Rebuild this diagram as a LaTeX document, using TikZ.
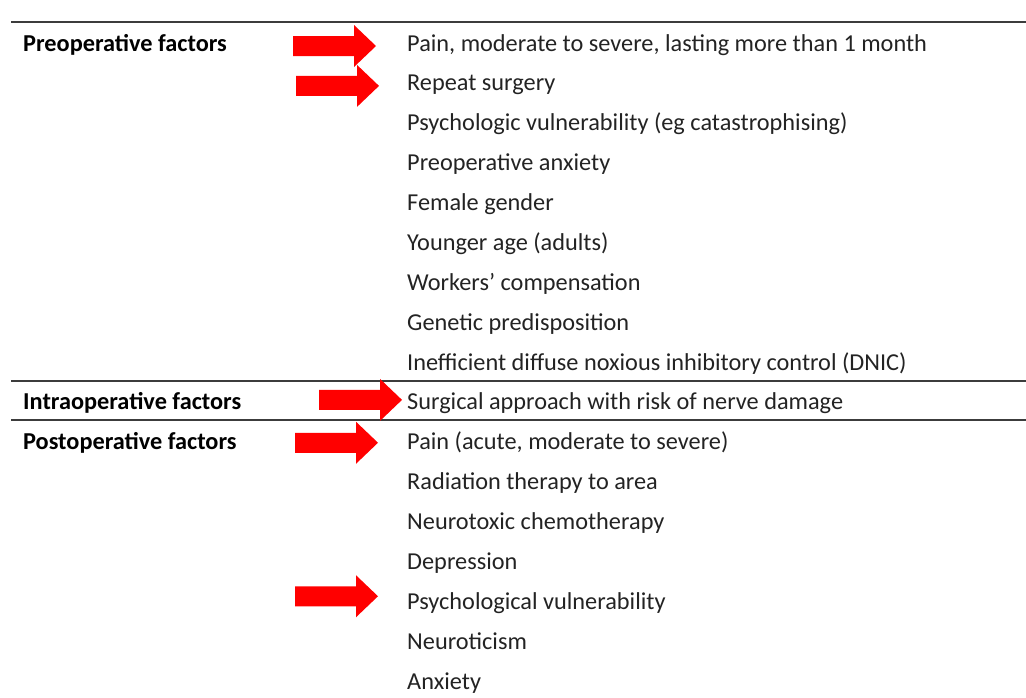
\documentclass[tikz,border=0pt]{standalone}
\usepackage{fontspec}
\setmainfont{Carlito}
\usepackage{xcolor}
\usetikzlibrary{calc}
\definecolor{markred}{RGB}{255,0,0}
\definecolor{rulegray}{RGB}{60,60,60}
\definecolor{textgray}{RGB}{35,35,35}
% block arrow whose tip sits on the given point
\newcommand{\pointer}[1]{%
  \fill[markred] (#1) -- ++(-22,-21) -- ++(0,11) -- ++(-61,0) -- ++(0,20)
    -- ++(61,0) -- ++(0,11) -- cycle;}

\begin{document}
\begin{tikzpicture}[x=1pt,y=-1pt,
    item/.style={anchor=base west,inner sep=0pt,font=\fontsize{24.3}{29}\selectfont,
                 text=textgray},
    group/.style={item,font=\fontsize{24.3}{29}\selectfont\bfseries,text=black},
    rule/.style={draw=rulegray,line width=1.4pt}]
  \useasboundingbox (0,0) rectangle (1026,697);
  % table rules
  \draw[rule] (11,22) -- (1026,22);
  \draw[rule] (11,381) -- (1026,381);
  \draw[rule] (11,420) -- (1026,420);
  % group labels
  \node[group] (preop)   at (23,51)    {Preoperative factors};
  \node[group] (intraop) at (23,409.9) {Intraoperative factors};
  \node[group] (postop)  at (23,449.75) {Postoperative factors};
  % preoperative items
  \node[item] (pre1) at (407,51)     {Pain, moderate to severe, lasting more than 1 month};
  \node[item] (pre2) at (407,90.9)   {Repeat surgery};
  \node[item] (pre3) at (407,130.75) {Psychologic vulnerability (eg catastrophising)};
  \node[item] (pre4) at (407,170.6)  {Preoperative anxiety};
  \node[item] (pre5) at (407,210.5)  {Female gender};
  \node[item] (pre6) at (407,250.4)  {Younger age (adults)};
  \node[item] (pre7) at (407,290.25) {Workers’ compensation};
  \node[item] (pre8) at (407,330.1)  {Genetic predisposition};
  \node[item] (pre9) at (407,370)    {Inefficient diffuse noxious inhibitory control (DNIC)};
  % intraoperative item
  \node[item] (intra1) at (407,409.9) {Surgical approach with risk of nerve damage};
  % postoperative items
  \node[item] (post1) at (407,449.75) {Pain (acute, moderate to severe)};
  \node[item] (post2) at (407,489.6)  {Radiation therapy to area};
  \node[item] (post3) at (407,529.5)  {Neurotoxic chemotherapy};
  \node[item] (post4) at (407,569.4)  {Depression};
  \node[item] (post5) at (407,609.25) {Psychological vulnerability};
  \node[item] (post6) at (407,649.1)  {Neuroticism};
  \node[item] (post7) at (407,689)    {Anxiety};
  % markers
  \pointer{$(pre1.base west)+(-31,-5)$}
  \pointer{$(pre2.base west)+(-28,-5)$}
  \pointer{$(intra1.base west)+(-5,-10)$}
  \pointer{$(post1.base west)+(-29,-7)$}
  \pointer{$(post5.base west)+(-29,-13)$}
\end{tikzpicture}
\end{document}
